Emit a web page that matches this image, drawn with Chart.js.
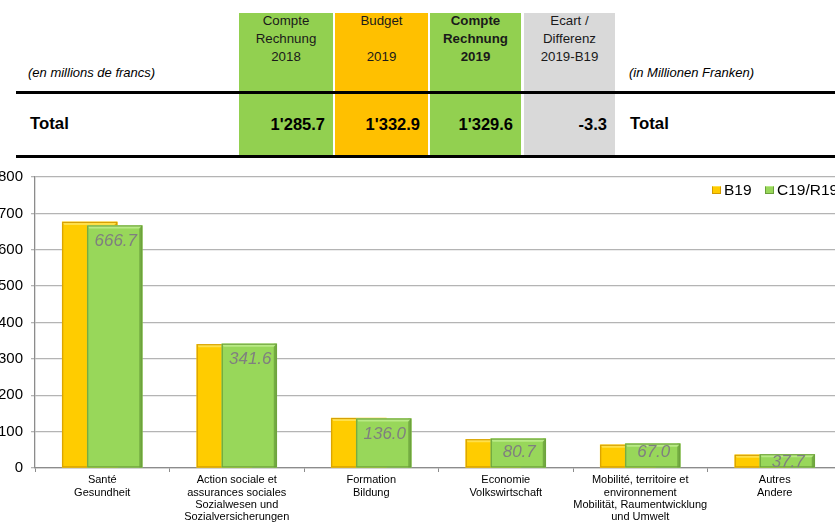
<!DOCTYPE html>
<html>
<head>
<meta charset="utf-8">
<script src="https://cdn.jsdelivr.net/npm/chart.js@4.4.0/dist/chart.umd.min.js"></script>
<style>
html,body{margin:0;padding:0;background:#fff;width:835px;height:522px;overflow:hidden;font-family:"Liberation Sans",Arial,sans-serif;}
#wrap{position:relative;width:835px;height:522px;overflow:hidden;}
.cell{position:absolute;top:13px;height:142px;}
.hdr{position:absolute;top:12px;text-align:center;font-size:13.3px;line-height:18px;color:#1a1a1a;}
.tot{position:absolute;top:114px;text-align:right;font-size:16.5px;line-height:20px;font-weight:bold;color:#000;}
.rule{position:absolute;left:16px;width:819px;height:3px;background:#000;}
.unit{position:absolute;top:65px;font-size:13px;line-height:16px;font-style:italic;color:#000;}
.lbl{position:absolute;top:114px;font-size:16.8px;line-height:20px;font-weight:bold;color:#000;}
#chartBox{position:absolute;left:0;top:160px;width:850px;height:370px;}
.lg{position:absolute;top:181px;font-size:15.5px;line-height:17px;color:#000;white-space:nowrap;}
.sq{position:absolute;top:186px;width:9px;height:8px;}
</style>
</head>
<body>
<div id="wrap">
  <div id="table"></div>
  <div id="chartBox"><canvas id="c"></canvas></div>
  <div id="legend"></div>
</div>
<script>
// ---- Data ----
const categories = [
  ["Santé", "Gesundheit"],
  ["Action sociale et", "assurances sociales", "Sozialwesen und", "Sozialversicherungen"],
  ["Formation", "Bildung"],
  ["Economie", "Volkswirtschaft"],
  ["Mobilité, territoire et", "environnement", "Mobilität, Raumentwicklung", "und Umwelt"],
  ["Autres", "Andere"]
];
const seriesNames = ["B19", "C19/R19"];
const budget2019 = [676.5, 340.2, 137.2, 79.0, 63.8, 36.2];
const compte2019 = [666.7, 341.6, 136.0, 80.7, 67.0, 37.7];
const yTicks = [0, 100, 200, 300, 400, 500, 600, 700, 800];

const tableHeaders = [
  ["Compte", "Rechnung", "2018"],
  ["Budget", "", "2019"],
  ["Compte", "Rechnung", "2019"],
  ["Ecart /", "Differenz", "2019-B19"]
];
const tableTotals = ["1'285.7", "1'332.9", "1'329.6", "-3.3"];
const unitFr = "(en millions de francs)";
const unitDe = "(in Millionen Franken)";
const rowLabel = "Total";

// ---- Styles ----
const colLeft = [239, 335, 430, 524];
const colWidth = [94, 93, 91, 91];
const colColor = ["#92D050", "#FFC000", "#92D050", "#D9D9D9"];
const colBold = [false, false, true, false];
const ORANGE = {fill: "#FFCC00", top: "#FFE04A", side: "#E8AE00", edge: "#D29A00"};
const GREEN = {fill: "#98D75A", top: "#B9EA86", side: "#74AC42", edge: "#6A9E3A"};
const BAR_SHIFT = 0.093; // fraction of a category between the two overlapped bars

// ---- Table ----
(function buildTable() {
  const t = document.getElementById('table');
  let html = '';
  for (let i = 0; i < tableHeaders.length; i++) {
    html += `<div class="cell" style="left:${colLeft[i]}px;width:${colWidth[i]}px;background:${colColor[i]}"></div>`;
    html += `<div class="hdr" style="left:${colLeft[i]}px;width:${colWidth[i]}px;${colBold[i] ? 'font-weight:bold;' : ''}">` +
      tableHeaders[i].map(s => s === '' ? '&nbsp;' : s).join('<br>') + `</div>`;
    html += `<div class="tot" style="left:${colLeft[i]}px;width:${colWidth[i] - 8}px">${tableTotals[i]}</div>`;
  }
  html += `<div class="rule" style="top:91px"></div>`;
  html += `<div class="rule" style="top:155px"></div>`;
  html += `<div class="unit" style="left:28px">${unitFr}</div>`;
  html += `<div class="unit" style="left:629px">${unitDe}</div>`;
  html += `<div class="lbl" style="left:30px">${rowLabel}</div>`;
  html += `<div class="lbl" style="left:630px">${rowLabel}</div>`;
  t.innerHTML = html;
})();

// ---- Legend ----
(function buildLegend() {
  const lg = document.getElementById('legend');
  const pos = [712, 765];
  const cols = [ORANGE, GREEN];
  let html = '';
  seriesNames.forEach((n, i) => {
    html += `<div class="sq" style="left:${pos[i]}px;background:${cols[i].fill};border:1px solid ${cols[i].edge};box-sizing:border-box;border-top-color:${cols[i].top}"></div>`;
    html += `<div class="lg" style="left:${pos[i] + 12}px">${n}</div>`;
  });
  lg.innerHTML = html;
})();

// ---- Plugins ----
const bevelPlugin = {
  id: 'bevel',
  afterDatasetDraw(chart, args) {
    const meta = args.meta;
    const pal = meta.index === 0 ? ORANGE : GREEN;
    const ctx = chart.ctx;
    ctx.save();
    meta.data.forEach(el => {
      const p = el.getProps(['x', 'y', 'width', 'base'], true);
      const l = p.x - p.width / 2, r = p.x + p.width / 2, t = p.y, b = p.base;
      const h = b - t;
      ctx.fillStyle = pal.side;
      ctx.fillRect(r - 3, t, 3, h);
      ctx.fillStyle = pal.top;
      ctx.beginPath();
      ctx.moveTo(l, t); ctx.lineTo(r, t); ctx.lineTo(r - 3, t + 3); ctx.lineTo(l + 2, t + 3); ctx.closePath();
      ctx.fill();
      ctx.strokeStyle = pal.edge;
      ctx.lineWidth = 1;
      ctx.strokeRect(l + 0.5, t + 0.5, p.width - 1, h - 1);
    });
    ctx.restore();
  }
};

const valueLabelPlugin = {
  id: 'valueLabels',
  afterDatasetsDraw(chart) {
    const meta = chart.getDatasetMeta(1);
    const ctx = chart.ctx;
    ctx.save();
    ctx.font = 'italic 17px "Liberation Sans", Arial, sans-serif';
    ctx.fillStyle = '#7f7f7f';
    ctx.textAlign = 'center';
    ctx.textBaseline = 'middle';
    meta.data.forEach((el, i) => {
      const p = el.getProps(['x', 'y', 'base'], true);
      const h = p.base - p.y;
      let y;
      if (h < 20) y = (p.y + p.base) / 2 + 1;
      else y = Math.min(p.y + 16, p.base - 15);
      ctx.fillText(compte2019[i].toFixed(1), p.x + 1, y);
    });
    ctx.restore();
  }
};

// ---- Chart ----
const ds = (vals, sign) => vals.map((v, i) => ({x: i + sign * BAR_SHIFT, y: v}));

new Chart(document.getElementById('c'), {
  type: 'bar',
  data: {
    labels: categories,
    datasets: [
      {label: seriesNames[0], data: ds(budget2019, -1), xAxisID: 'xb', backgroundColor: ORANGE.fill,
       grouped: false, barThickness: 55, order: 2, borderWidth: 0},
      {label: seriesNames[1], data: ds(compte2019, 1), xAxisID: 'xb', backgroundColor: GREEN.fill,
       grouped: false, barThickness: 55, order: 1, borderWidth: 0}
    ]
  },
  options: {
    responsive: true,
    maintainAspectRatio: false,
    animation: false,
    devicePixelRatio: 1,
    layout: {padding: {top: 15, left: 0, right: 8, bottom: 0}},
    plugins: {legend: {display: false}, tooltip: {enabled: false}, title: {display: false}},
    scales: {
      x: {
        type: 'category',
        position: 'bottom',
        offset: true,
        grid: {offset: true, drawOnChartArea: false, tickLength: 4, color: '#8c8c8c', lineWidth: 1},
        border: {color: '#8c8c8c', width: 1.3},
        ticks: {font: {size: 11, family: '"Liberation Sans", Arial, sans-serif', lineHeight: 1.12},
                color: '#000', padding: 2, maxRotation: 0, autoSkip: false},
        afterFit(s) { s.height = 62; }
      },
      xb: {
        type: 'linear', position: 'bottom', display: false, min: -0.5, max: 5.5, offset: false
      },
      y: {
        min: yTicks[0], max: yTicks[yTicks.length - 1],
        afterBuildTicks(s) { s.ticks = yTicks.map(v => ({value: v})); },
        ticks: {font: {size: 15, family: '"Liberation Sans", Arial, sans-serif'}, color: '#000', padding: 8},
        grid: {color: '#b4b4b4', lineWidth: 1.3, tickLength: 4},
        border: {color: '#8c8c8c', width: 1.3},
        afterFit(s) { s.width = 35; }
      }
    }
  },
  plugins: [bevelPlugin, valueLabelPlugin]
});
</script>
</body>
</html>
